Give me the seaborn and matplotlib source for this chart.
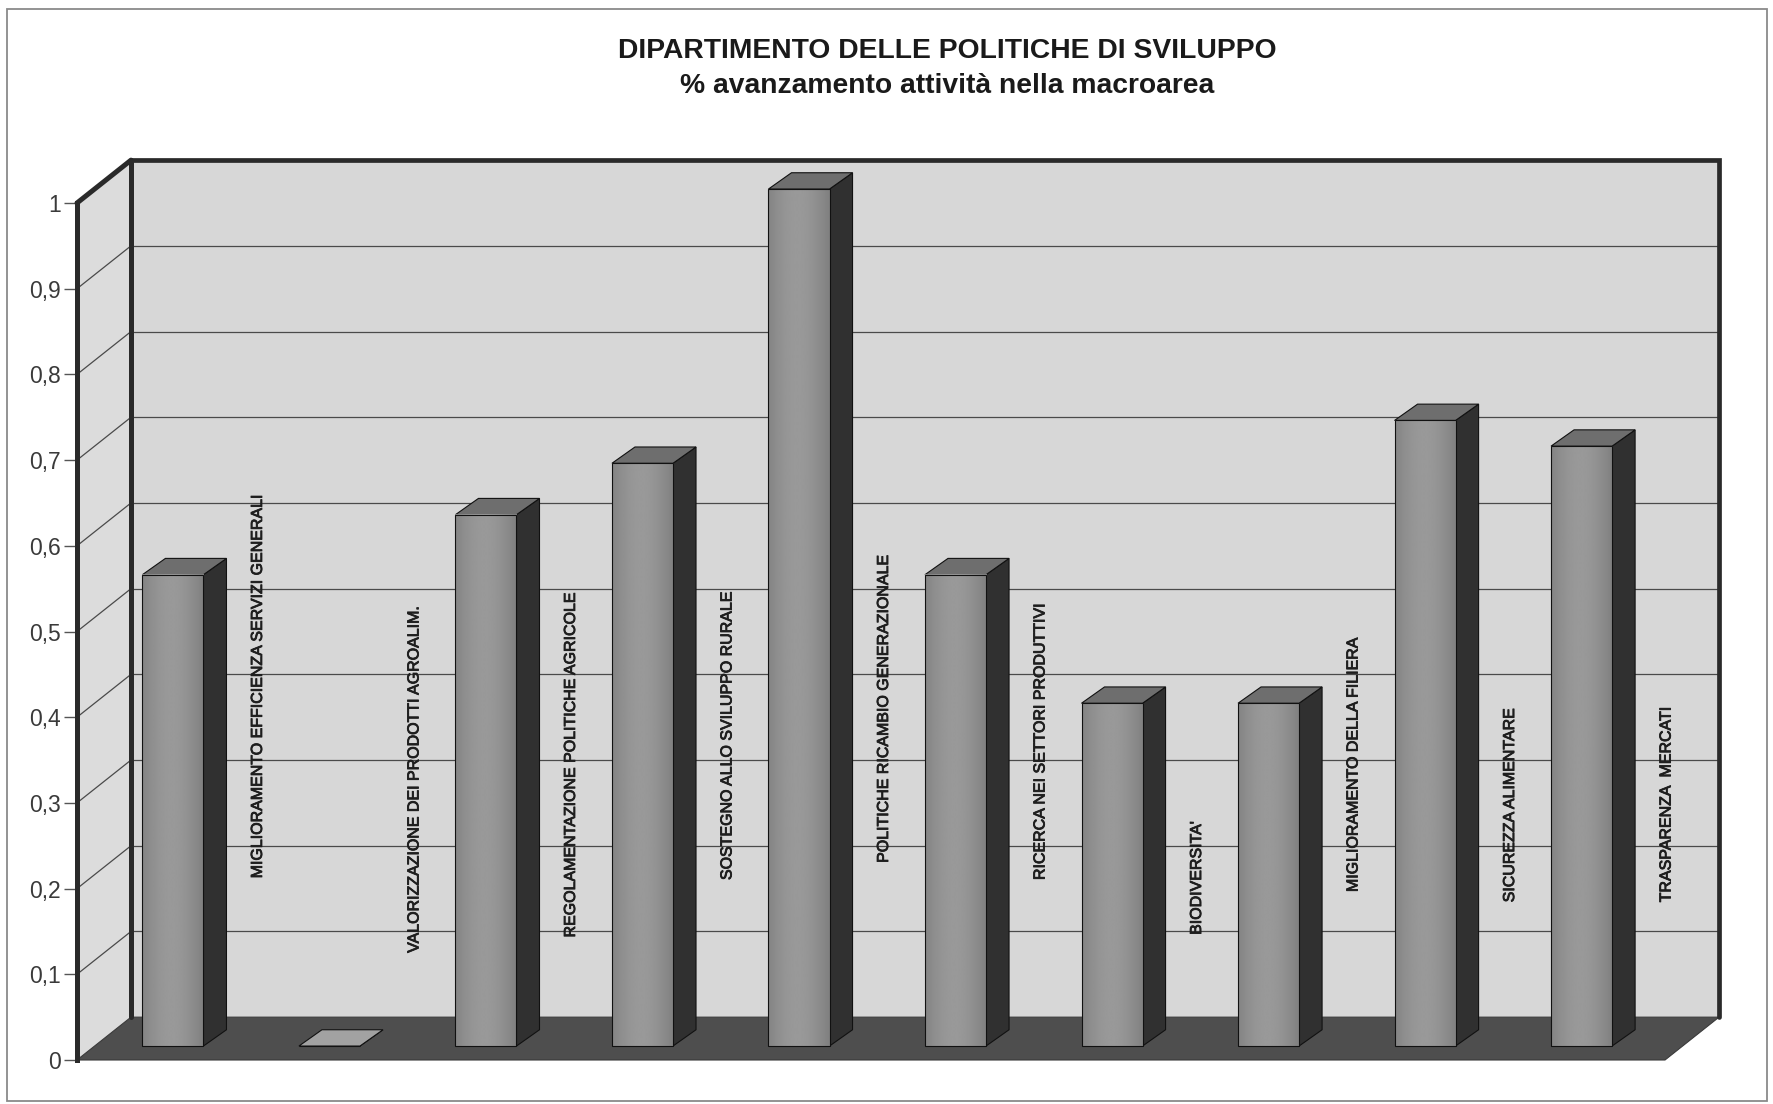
# plot.py
"""
Excel-style 3D column chart: % avanzamento attività per macroarea
(Dipartimento delle politiche di sviluppo), redrawn with seaborn.
"""

import numpy as np
import matplotlib
matplotlib.use("Agg")
import matplotlib.pyplot as plt
import matplotlib.patheffects as pe
from matplotlib.patches import Polygon, Rectangle
import pandas as pd
import seaborn as sns

TITLE = "DIPARTIMENTO DELLE POLITICHE DI SVILUPPO"
SUBTITLE = "% avanzamento attività nella macroarea"

ACTIVITIES = [
    "MIGLIORAMENTO EFFICIENZA SERVIZI GENERALI",
    "VALORIZZAZIONE DEI PRODOTTI AGROALIM.",
    "REGOLAMENTAZIONE POLITICHE AGRICOLE",
    "SOSTEGNO ALLO SVILUPPO RURALE",
    "POLITICHE RICAMBIO GENERAZIONALE",
    "RICERCA NEI SETTORI PRODUTTIVI",
    "BIODIVERSITA'",
    "MIGLIORAMENTO DELLA FILIERA",
    "SICUREZZA ALIMENTARE",
    "TRASPARENZA  MERCATI",
]
PROGRESS = [0.55, 0.0, 0.62, 0.68, 1.0, 0.55, 0.40, 0.40, 0.73, 0.70]

Y_TICKS = [0, 0.1, 0.2, 0.3, 0.4, 0.5, 0.6, 0.7, 0.8, 0.9, 1]
Y_TICK_LABELS = ["0", "0,1", "0,2", "0,3", "0,4", "0,5", "0,6", "0,7", "0,8", "0,9", "1"]

# height (axis units) where each rotated category label starts
LABEL_BASE = [0.212, 0.125, 0.143, 0.210, 0.230, 0.210, 0.146, 0.196, 0.184, 0.184]

# ---------------------------------------------------------------------------
# Layout of the fake 3D box (data units)
# ---------------------------------------------------------------------------
W, H = 1774, 1104
FRAME_LEFT, FRAME_RIGHT = -0.613, 9.533   # front edge of the floor
DEPTH_X, DEPTH_Y = 0.345, 0.050           # front -> back wall offset
BAR_Z = 0.0163                            # bars stand a bit behind the front edge
BAR_W = 0.39
SIDE_X, SIDE_Y = 0.147, 0.019             # bar depth

NARROW = ["Liberation Sans Narrow", "Liberation Sans", "DejaVu Sans"]

WALL_BACK = "#d7d7d7"
WALL_LEFT = "#dcdcdc"
FLOOR = "#4e4e4e"
EDGE = "#2a2a2a"
GRID = "#4a4a4a"
BAR_FRONT = "#8c8c8c"
BAR_SIDE = "#303030"
BAR_TOP = "#6e6e6e"


def draw_box(ax):
    x0, x1 = FRAME_LEFT, FRAME_RIGHT
    bx0, bx1 = x0 + DEPTH_X, x1 + DEPTH_X
    top = Y_TICKS[-1]

    back = Polygon([(bx0, DEPTH_Y), (bx1, DEPTH_Y), (bx1, top + DEPTH_Y), (bx0, top + DEPTH_Y)],
                   closed=True, facecolor=WALL_BACK, edgecolor="none", zorder=0.5, clip_on=False)
    left = Polygon([(x0, 0), (bx0, DEPTH_Y), (bx0, top + DEPTH_Y), (x0, top)],
                   closed=True, facecolor=WALL_LEFT, edgecolor="none", zorder=0.6, clip_on=False)
    ax.add_patch(back)
    ax.add_patch(left)

    # gridlines on both walls
    for t in Y_TICKS[1:]:
        ax.plot([bx0, bx1], [t + DEPTH_Y, t + DEPTH_Y], color=GRID, lw=0.9, zorder=1, clip_on=False)
        ax.plot([x0, bx0], [t, t + DEPTH_Y], color=GRID, lw=0.9, zorder=1, clip_on=False)

    floor = Polygon([(x0, 0), (x1, 0), (bx1, DEPTH_Y), (bx0, DEPTH_Y)],
                    closed=True, facecolor=FLOOR, edgecolor="#3a3a3a", lw=0.8, zorder=2, clip_on=False)
    ax.add_patch(floor)

    # heavy outline of the walls
    ax.plot([bx0, bx0], [DEPTH_Y, top + DEPTH_Y], color=EDGE, lw=3.6, zorder=3, clip_on=False)
    ax.plot([x0, bx0], [top, top + DEPTH_Y], color=EDGE, lw=3.6, zorder=3, clip_on=False,
            solid_capstyle="round")
    ax.plot([bx0, bx1, bx1], [top + DEPTH_Y, top + DEPTH_Y, DEPTH_Y], color=EDGE, lw=3.4,
            zorder=3, clip_on=False, solid_joinstyle="miter")


def draw_bar_depth(ax, bars):
    """Shade the seaborn bars and add their side and top faces."""
    shade = 0.50 + 0.10 * np.sin(np.pi * np.linspace(0.05, 1.0, 64))[None, :]
    for rect in bars:
        rect.set_clip_on(False)
        xl = rect.get_x()
        xr = xl + rect.get_width()
        yb = rect.get_y()
        yt = yb + rect.get_height()
        if yt > yb:
            ax.imshow(shade, extent=[xl, xr, yb, yt], cmap="gray", vmin=0, vmax=1,
                      aspect="auto", interpolation="bilinear", zorder=4.05, clip_on=False)
            rect.set_facecolor("none")
            rect.set_zorder(4.1)
        side = Polygon([(xr, yb), (xr + SIDE_X, yb + SIDE_Y), (xr + SIDE_X, yt + SIDE_Y), (xr, yt)],
                       closed=True, facecolor=BAR_SIDE, edgecolor="#111111", lw=0.8, zorder=4,
                       clip_on=False)
        top_face = Polygon([(xl, yt), (xr, yt), (xr + SIDE_X, yt + SIDE_Y), (xl + SIDE_X, yt + SIDE_Y)],
                           closed=True, facecolor=BAR_TOP if yt > yb else "#a2a2a2",
                           edgecolor="#111111", lw=0.8, zorder=4, clip_on=False)
        ax.add_patch(side)
        ax.add_patch(top_face)


def main():
    sns.set_style("white")
    plt.rcParams["font.family"] = ["Liberation Sans", "DejaVu Sans"]

    df = pd.DataFrame({"activity": ACTIVITIES, "progress": PROGRESS})

    fig = plt.figure(figsize=(W / 100, H / 100), dpi=100)
    ax = fig.add_axes([77 / W, 44 / H, (1665 - 77) / W, (1060 - 203) / H])
    ax.patch.set_visible(False)

    draw_box(ax)

    sns.barplot(data=df, x="activity", y="progress", order=ACTIVITIES, width=BAR_W,
                color=BAR_FRONT, saturation=1, edgecolor="#111111", linewidth=0.8,
                bottom=BAR_Z, errorbar=None, zorder=4, ax=ax)
    draw_bar_depth(ax, list(ax.patches[-len(ACTIVITIES):]))

    # category names written vertically beside each column
    stroke = [pe.withStroke(linewidth=0.6, foreground="#1e1e1e")]
    for i, name in enumerate(ACTIVITIES):
        ax.text(i + 0.54, LABEL_BASE[i], name, rotation=90, ha="center", va="bottom",
                fontsize=11.5, family=NARROW, color="#1e1e1e", zorder=5,
                path_effects=stroke)

    ax.set_xlim(FRAME_LEFT, FRAME_RIGHT)
    ax.set_ylim(0, 1)
    ax.set_xticks([])
    ax.set_xlabel("")
    ax.set_ylabel("")
    ax.set_yticks(Y_TICKS)
    ax.set_yticklabels(Y_TICK_LABELS)
    ax.tick_params(axis="y", direction="out", length=9.5, width=1.0, color="#555555",
                   pad=2, labelsize=16.5, labelcolor="#3a3a3a", left=True)
    for side in ("top", "right", "bottom"):
        ax.spines[side].set_visible(False)
    ax.spines["left"].set_linewidth(3.6)
    ax.spines["left"].set_color(EDGE)
    ax.spines["left"].set_zorder(3.5)

    fig.text(947 / W, 1 - 51 / H, TITLE, ha="center", va="center", fontsize=20.3,
             fontweight="bold", family=NARROW, color="#1a1a1a")
    fig.text(947 / W, 1 - 86 / H, SUBTITLE, ha="center", va="center", fontsize=20.3,
             fontweight="bold", family=NARROW, color="#1a1a1a")

    fig.add_artist(Rectangle((7 / W, 3 / H), (1767 - 7) / W, (1095 - 3) / H,
                             transform=fig.transFigure, fill=False,
                             edgecolor="#8a8a8a", lw=1.3))

    fig.savefig("out.png", dpi=100, facecolor="white")


if __name__ == "__main__":
    main()
